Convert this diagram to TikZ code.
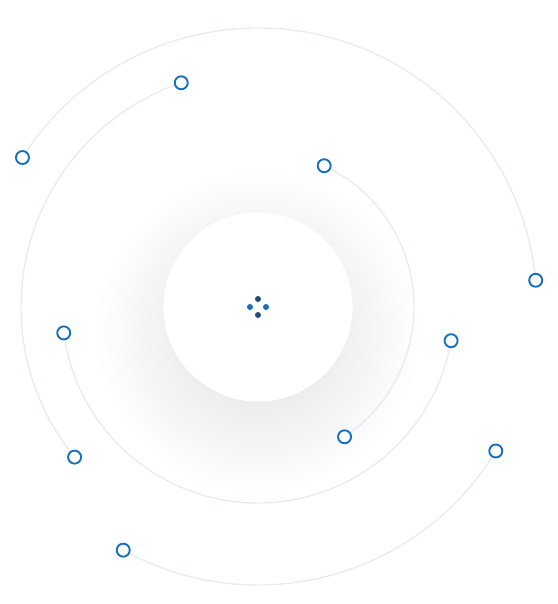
\documentclass[tikz,border=0pt]{standalone}
\usetikzlibrary{calc}
\definecolor{ringblue}{HTML}{1570C4}
\definecolor{hubnavy}{HTML}{1F4E79}
\definecolor{orbitgray}{HTML}{E9ECEF}
\pgfdeclarelayer{shadowlayer}
\pgfdeclarelayer{orbitlayer}
\pgfsetlayers{shadowlayer,orbitlayer,main}
\tikzset{
  planet/.style={circle,draw=ringblue,line width=1.9pt,fill=white,
    minimum size=13pt,inner sep=0pt},
  orbit/.style={draw=orbitgray,line width=1.4pt},
  hubdot/.style={circle,fill=#1,minimum size=6pt,inner sep=0pt},
  hubdisc/.style={circle,fill=white,minimum size=189pt,inner sep=0pt},
  glow/.style={fill=black,opacity=0.004}
}

\begin{document}
\begin{tikzpicture}[x=1pt,y=1pt]
  \useasboundingbox (0,-604) rectangle (557,0);
  \coordinate (glowcentre) at (258,-332);
  \begin{pgfonlayer}{shadowlayer}
    \foreach \k in {0,...,17}
      \fill[glow] (glowcentre) circle[radius=75+5*\k];
    \node[hubdisc] (hub) at (258,-307) {};
  \end{pgfonlayer}
  \foreach \dotname/\dx/\dy/\dotcolor in {top/0/8/hubnavy,right/8/0/ringblue,
      bottom/0/-8/hubnavy,left/-8/0/ringblue}
    \node[hubdot=\dotcolor] (dot\dotname) at ($(hub)+(\dx,\dy)$) {};
  % planets on the orbits
  \foreach \planetname/\ang/\rad in {a1/147.6/279,a2/5.5/279,b1/108.9/237,
      b2/219.3/237,c1/64.9/156,c2/-56.3/156,d1/187.6/196,d2/350.1/196,
      e1/241/278,e2/328.8/278}
    \node[planet] (\planetname) at ($(hub)+(\ang:\rad)$) {};
  \begin{pgfonlayer}{orbitlayer}
    \draw[orbit] (a1.center) arc[start angle=147.6,end angle=5.5,radius=279];
    \draw[orbit] (b1.center) arc[start angle=108.9,end angle=219.3,radius=237];
    \draw[orbit] (c1.center) arc[start angle=64.9,end angle=-56.3,radius=156];
    \draw[orbit] (d1.center) arc[start angle=187.6,end angle=350.1,radius=196];
    \draw[orbit] (e1.center) arc[start angle=241,end angle=328.8,radius=278];
  \end{pgfonlayer}
\end{tikzpicture}
\end{document}
